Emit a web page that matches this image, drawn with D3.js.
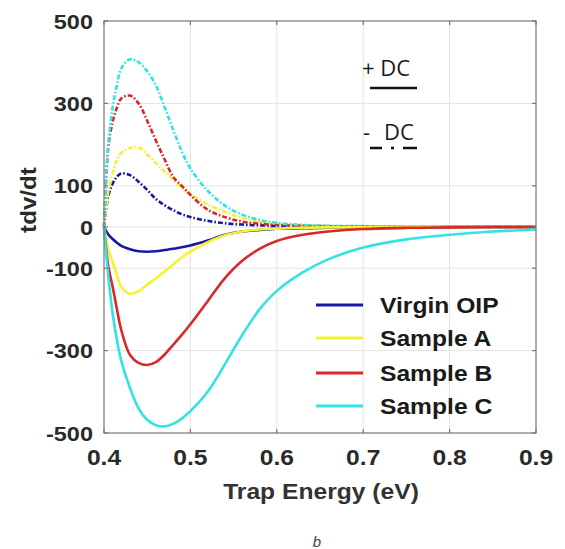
<!DOCTYPE html>
<html>
<head>
<meta charset="utf-8">
<script src="https://cdn.jsdelivr.net/npm/d3@7"></script>
<style>
  body { margin: 0; background: #fff; }
  svg { display: block; }
</style>
</head>
<body>
<svg width="565" height="549"></svg>
<script>
// trap energy (eV), shared by all curves
var energy = [0.40, 0.405, 0.41, 0.415, 0.42, 0.43, 0.44, 0.45, 0.46, 0.47, 0.48, 0.49, 0.50,
              0.52, 0.54, 0.56, 0.58, 0.60, 0.63, 0.66, 0.70, 0.75, 0.80, 0.85, 0.90];

// +DC (solid, negative)
var virginPos = [0, -18, -29, -38, -46, -54, -59, -60, -59, -56, -53, -49, -45, -33, -19, -11, -7, -4, -3, -2, -1, -1, 0, 0, 0];
var sampleAPos = [0, -55, -85, -118, -145, -162, -156, -140, -125, -108, -91, -74, -60, -37, -20, -11, -6, -4, -2, -1, -1, 0, 0, 0, 0];
var sampleBPos = [0, -95, -145, -200, -250, -310, -330, -335, -328, -310, -286, -262, -236, -180, -124, -82, -53, -34, -19, -11, -5, -2, -1, 0, 0];
var sampleCPos = [0, -120, -210, -275, -325, -390, -440, -468, -481, -484, -478, -465, -447, -400, -333, -262, -200, -155, -110, -78, -50, -30, -19, -11, -6];

// -DC (dash-dot, positive)
var virginNeg = [0, 75, 105, 122, 130, 126, 110, 90, 68, 53, 41, 31, 24, 15, 9, 6, 4, 3, 2, 1, 1, 0, 0, 0, 0];
var sampleANeg = [0, 85, 130, 163, 180, 192, 193, 176, 155, 135, 115, 95, 80, 55, 36, 22, 13, 8, 4, 2, 1, 0, 0, 0, 0];
var sampleBNeg = [0, 195, 255, 290, 312, 319, 300, 258, 210, 165, 122, 100, 78, 42, 24, 13, 8, 5, 3, 2, 1, 0, 0, 0, 0];
var sampleCNeg = [0, 200, 290, 345, 385, 407, 400, 378, 344, 292, 236, 184, 142, 88, 52, 30, 17, 10, 5, 3, 2, 1, 0.5, 0, 0];

var seriesNames = ["Virgin OIP", "Sample A", "Sample B", "Sample C"];
var seriesColors = ["#1818a8", "#f3f330", "#d82828", "#33e3e3"];

var xTicks = [0.4, 0.5, 0.6, 0.7, 0.8, 0.9];
var yTicks = [-500, -300, -100, 0, 100, 300, 500];

var svg = d3.select("svg");
var margin = {left: 104, right: 29, top: 21, bottom: 116};
var width = 565, height = 549;

var x = d3.scaleLinear().domain([0.4, 0.9]).range([margin.left, width - margin.right]);
var y = d3.scaleLinear().domain([-500, 500]).range([height - margin.bottom, margin.top]);

// grid
var grid = svg.append("g").attr("stroke", "#e4e4e4").attr("stroke-width", 1);
xTicks.slice(1, -1).forEach(function(t) {
  grid.append("line").attr("x1", x(t)).attr("x2", x(t)).attr("y1", y(-500)).attr("y2", y(500));
});
yTicks.slice(1, -1).forEach(function(t) {
  grid.append("line").attr("y1", y(t)).attr("y2", y(t)).attr("x1", x(0.4)).attr("x2", x(0.9));
});

// curves
var line = d3.line()
  .x(function(d) { return x(d[0]); })
  .y(function(d) { return y(d[1]); })
  .curve(d3.curveCatmullRom.alpha(0.5));

var posData = [virginPos, sampleAPos, sampleBPos, sampleCPos];
var negData = [virginNeg, sampleANeg, sampleBNeg, sampleCNeg];

negData.forEach(function(vals, i) {
  svg.append("path")
    .attr("d", line(energy.map(function(e, j) { return [e, vals[j]]; })))
    .attr("fill", "none")
    .attr("stroke", seriesColors[i])
    .attr("stroke-width", 2.6)
    .attr("stroke-dasharray", "5,2,1.6,2");
});
posData.forEach(function(vals, i) {
  svg.append("path")
    .attr("d", line(energy.map(function(e, j) { return [e, vals[j]]; })))
    .attr("fill", "none")
    .attr("stroke", seriesColors[i])
    .attr("stroke-width", 2.6);
});

// frame + inward ticks (matlab style)
var frame = svg.append("g").attr("stroke", "#777").attr("stroke-width", 1.2).attr("fill", "none");
frame.append("rect").attr("x", x(0.4)).attr("y", y(500))
  .attr("width", x(0.9) - x(0.4)).attr("height", y(-500) - y(500));
xTicks.forEach(function(t) {
  frame.append("line").attr("x1", x(t)).attr("x2", x(t)).attr("y1", y(-500)).attr("y2", y(-500) - 4);
  frame.append("line").attr("x1", x(t)).attr("x2", x(t)).attr("y1", y(500)).attr("y2", y(500) + 4);
});
yTicks.forEach(function(t) {
  frame.append("line").attr("y1", y(t)).attr("y2", y(t)).attr("x1", x(0.4)).attr("x2", x(0.4) + 4);
  frame.append("line").attr("y1", y(t)).attr("y2", y(t)).attr("x1", x(0.9)).attr("x2", x(0.9) - 4);
});

var font = "'Liberation Sans', Arial, sans-serif";

// tick labels
yTicks.forEach(function(t) {
  svg.append("text")
    .attr("transform", "translate(" + (x(0.4) - 11) + "," + (y(t) + 7.5) + ") scale(1.12,1)")
    .attr("text-anchor", "end")
    .attr("font-family", font).attr("font-weight", "bold").attr("font-size", 21)
    .attr("fill", "#2a2a2a")
    .text(t);
});
xTicks.forEach(function(t) {
  svg.append("text")
    .attr("transform", "translate(" + x(t) + "," + 465 + ") scale(1.12,1)")
    .attr("text-anchor", "middle")
    .attr("font-family", font).attr("font-weight", "bold").attr("font-size", 22)
    .attr("fill", "#2a2a2a")
    .text(d3.format(".1f")(t));
});

// axis titles
svg.append("text")
  .attr("transform", "translate(321,499) scale(1.12,1)")
  .attr("text-anchor", "middle")
  .attr("font-family", font).attr("font-weight", "bold").attr("font-size", 22)
  .attr("fill", "#333")
  .text("Trap Energy (eV)");
svg.append("text")
  .attr("transform", "translate(36,200) rotate(-90) scale(1.1,1)")
  .attr("text-anchor", "middle")
  .attr("font-family", font).attr("font-weight", "bold").attr("font-size", 22)
  .attr("fill", "#2a2a2a")
  .text("tdv/dt");

// legend
var legendY = [305, 338, 373, 406];
seriesNames.forEach(function(name, i) {
  svg.append("line")
    .attr("x1", 316).attr("x2", 363)
    .attr("y1", legendY[i]).attr("y2", legendY[i])
    .attr("stroke", seriesColors[i]).attr("stroke-width", 3);
  svg.append("text")
    .attr("transform", "translate(380," + (legendY[i] + 8) + ") scale(1.12,1)")
    .attr("font-family", font).attr("font-weight", "bold").attr("font-size", 22)
    .attr("fill", "#1a1a1a")
    .text(name);
});

// +DC / -DC key
var keyFont = "'Open Sans', 'Noto Sans', sans-serif";
svg.append("text").attr("x", 362).attr("y", 76)
  .attr("font-family", keyFont).attr("font-size", 22).attr("fill", "#1a1a1a")
  .text("+ DC");
svg.append("line").attr("x1", 370).attr("x2", 417).attr("y1", 88).attr("y2", 88)
  .attr("stroke", "#111").attr("stroke-width", 2.5);
svg.append("text").attr("x", 363).attr("y", 140)
  .attr("font-family", keyFont).attr("font-size", 22).attr("fill", "#1a1a1a")
  .text("-");
svg.append("text").attr("x", 384).attr("y", 140)
  .attr("font-family", keyFont).attr("font-size", 22).attr("fill", "#1a1a1a")
  .text("DC");
svg.append("line").attr("x1", 370).attr("x2", 417).attr("y1", 148).attr("y2", 148)
  .attr("stroke", "#111").attr("stroke-width", 2.5)
  .attr("stroke-dasharray", "12,9,3,9,14");

// caption
svg.append("text").attr("x", 317).attr("y", 547)
  .attr("text-anchor", "middle")
  .attr("font-family", font).attr("font-style", "italic").attr("font-size", 15)
  .attr("fill", "#444")
  .text("b");
</script>
</body>
</html>
